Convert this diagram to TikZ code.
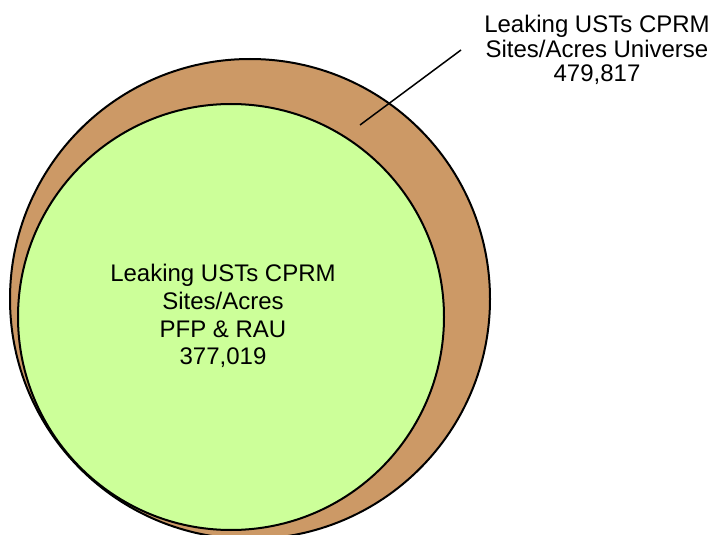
\documentclass[tikz,border=0pt]{standalone}
\usepackage{fontspec}
\setmainfont{Liberation Sans}
\definecolor{tanfill}{RGB}{204,153,102}
\definecolor{greenfill}{RGB}{204,255,153}
\begin{document}
\begin{tikzpicture}[x=1pt,y=-1pt,
  setcircle/.style={circle, draw=black, line width=2pt, inner sep=0pt},
  lbl/.style={align=center, inner sep=0pt, text=black},
  pointer/.style={draw=black, line width=1.5pt}]
\useasboundingbox (0,0) rectangle (713,535);
\clip (0,0) rectangle (713,535);
\node[setcircle, fill=tanfill, minimum size=480pt] (universe) at (250,299) {};
\node[setcircle, fill=greenfill, minimum size=426pt] (pfp) at (231,317) {};
\node[lbl, font=\fontsize{24}{27.7}\selectfont] (pfplabel) at (223,316)
  {Leaking USTs CPRM\\Sites/Acres\\PFP \& RAU\\377,019};
\node[lbl, font=\fontsize{24}{24.5}\selectfont] (unilabel) at (597,50)
  {Leaking USTs CPRM\\Sites/Acres Universe\\479,817};
\coordinate (ptrstart) at (461,50);
\coordinate (ptrend) at (360,125);
\draw[pointer] (ptrstart) -- (ptrend);
\end{tikzpicture}
\end{document}
